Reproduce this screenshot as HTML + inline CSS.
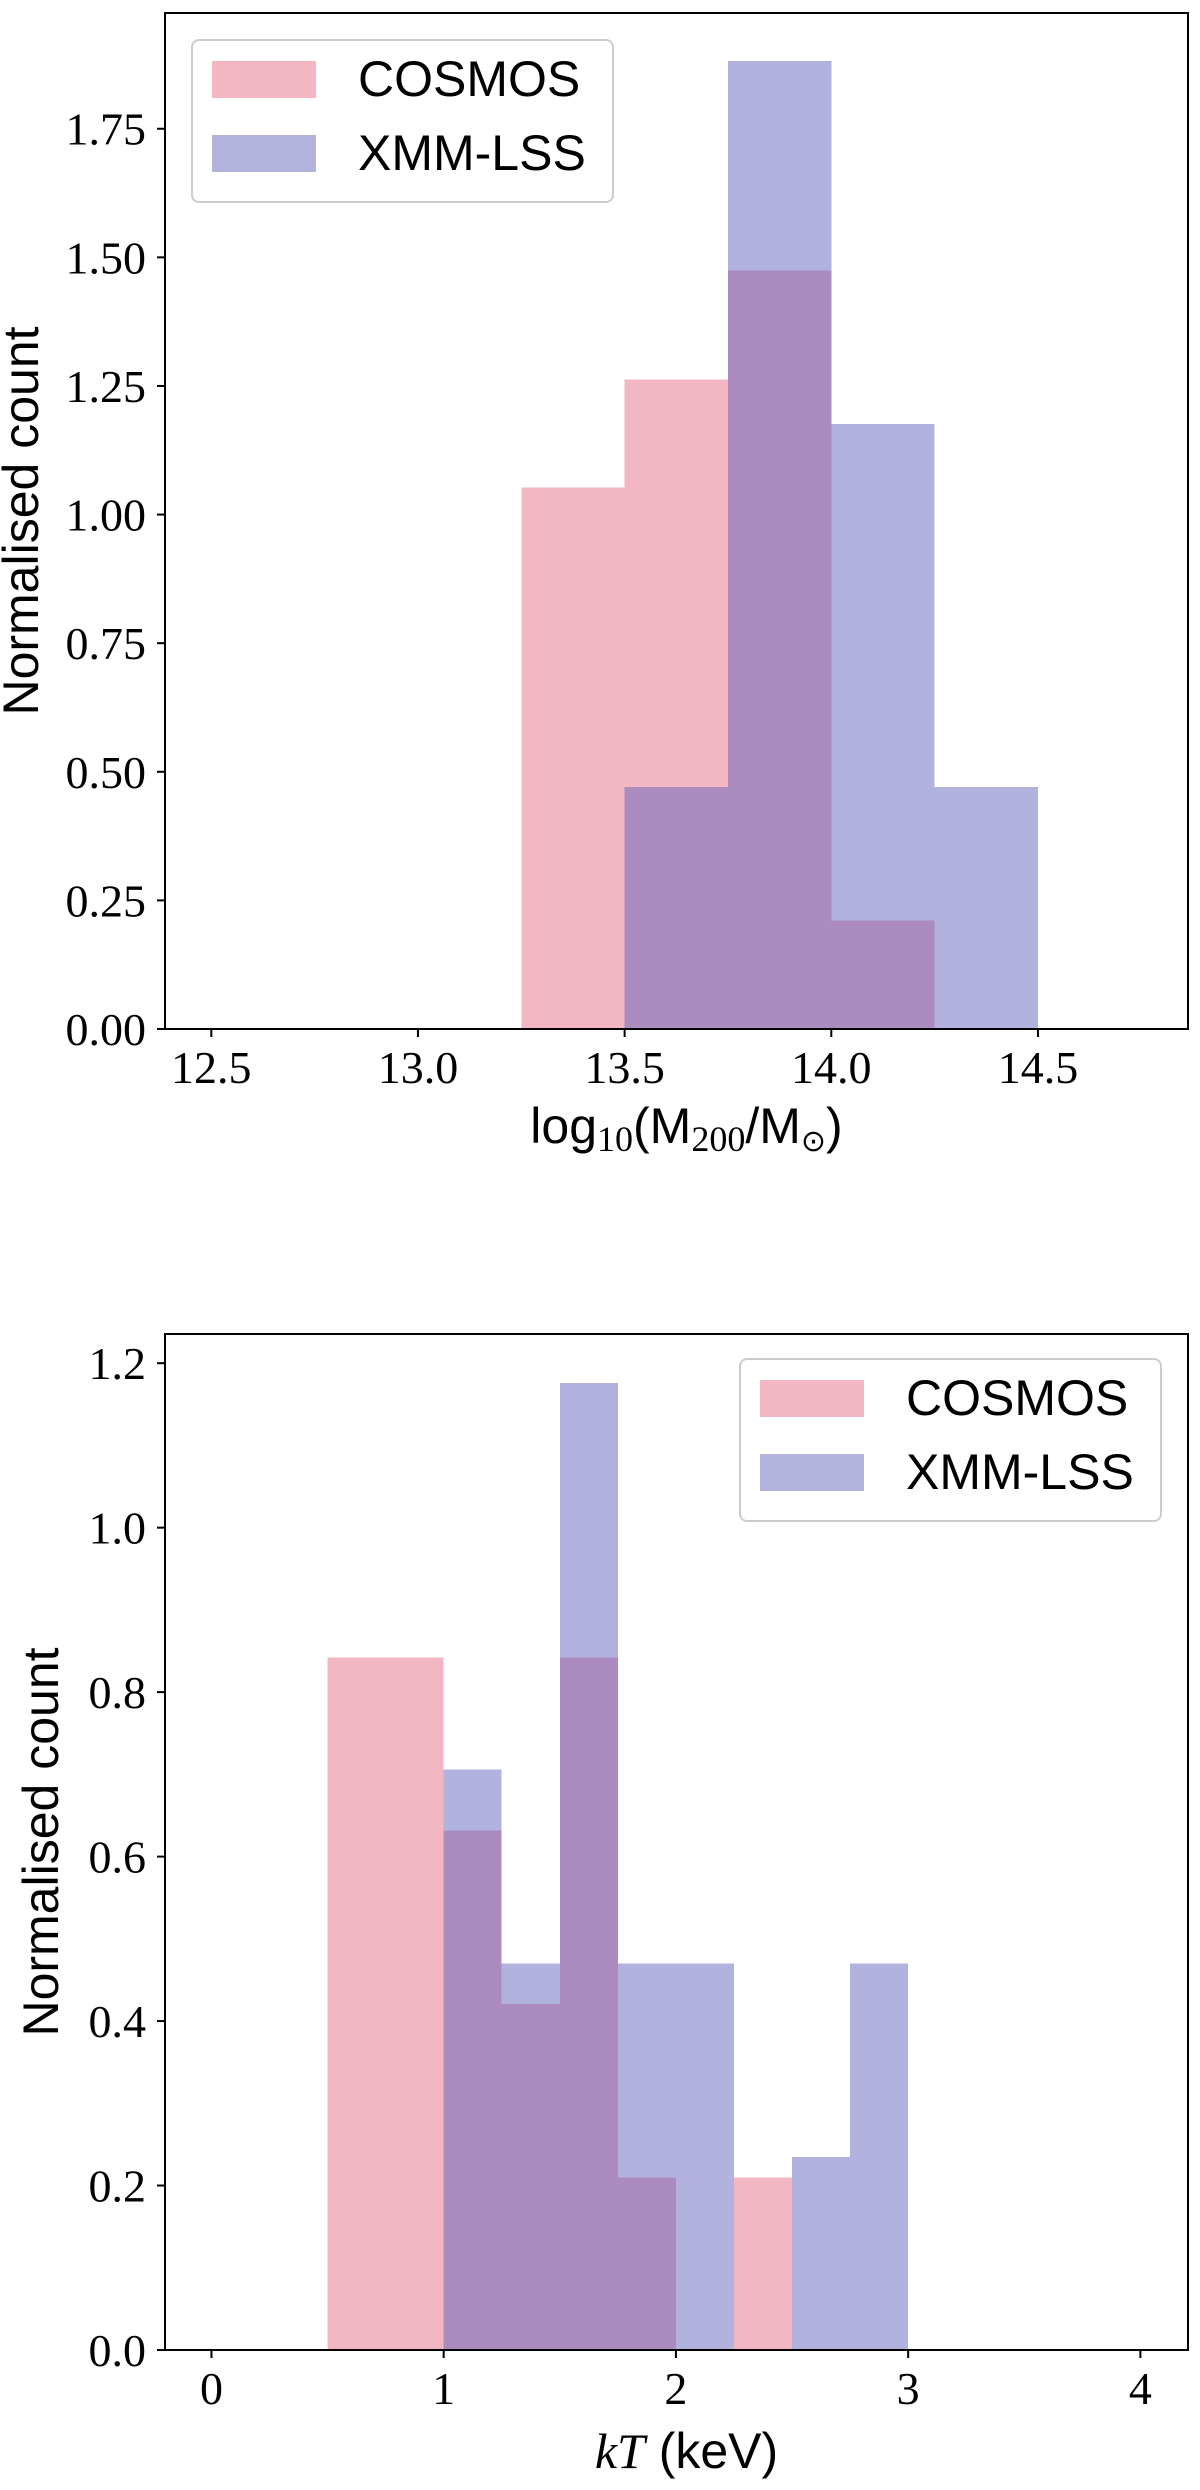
<!DOCTYPE html>
<html><head><meta charset="utf-8"><style>
html,body{margin:0;padding:0;background:#fff;}
svg{display:block;}
.tk{font-family:"Liberation Serif",serif;font-size:46px;fill:#000;}
.sn{font-family:"Liberation Sans",sans-serif;fill:#000;}
</style></head><body>
<svg id="fig" width="1200" height="2490" viewBox="0 0 1200 2490" xmlns="http://www.w3.org/2000/svg">
<rect width="1200" height="2490" fill="#fff"/>
</svg>
<script>
// Panel 1 data: log10(M200/Msun)
const massEdgesCosmos = [13.25, 13.5, 13.75, 14.0, 14.25];
const massCosmos = [1.053, 1.263, 1.474, 0.211];
const massEdgesXmm = [13.5, 13.75, 14.0, 14.25, 14.5];
const massXmm = [0.47, 1.882, 1.176, 0.47];
const massXTicks = [12.5, 13.0, 13.5, 14.0, 14.5];
const massXTickLabels = ["12.5", "13.0", "13.5", "14.0", "14.5"];
const massYTicks = [0, 0.25, 0.5, 0.75, 1.0, 1.25, 1.5, 1.75];
const massYTickLabels = ["0.00", "0.25", "0.50", "0.75", "1.00", "1.25", "1.50", "1.75"];
// Panel 2 data: kT (keV)
const ktEdgesCosmos = [0.5, 1.0, 1.25, 1.5, 1.75, 2.0, 2.25, 2.5];
const ktCosmos = [0.842, 0.632, 0.421, 0.842, 0.21, 0, 0.21];
const ktEdgesXmm = [1.0, 1.25, 1.5, 1.75, 2.25, 2.5, 2.75, 3.0];
const ktXmm = [0.706, 0.47, 1.176, 0.47, 0, 0.235, 0.47];
const ktXTicks = [0, 1, 2, 3, 4];
const ktXTickLabels = ["0", "1", "2", "3", "4"];
const ktYTicks = [0, 0.2, 0.4, 0.6, 0.8, 1.0, 1.2];
const ktYTickLabels = ["0.0", "0.2", "0.4", "0.6", "0.8", "1.0", "1.2"];

const NS = "http://www.w3.org/2000/svg";
const svg = document.getElementById('fig');
function mk(tag, attrs, parent) {
  const e = document.createElementNS(NS, tag);
  for (const k in attrs) e.setAttribute(k, attrs[k]);
  (parent || svg).appendChild(e);
  return e;
}

function panel(cfg) {
  const g = mk('g', {});
  
  
  const L = 165, R = 1188, T = cfg.top, B = cfg.bottom;
  const sx = v => L + (v - cfg.xmin) / (cfg.xmax - cfg.xmin) * (R - L);
  const sy = v => B - (v - cfg.ymin) / (cfg.ymax - cfg.ymin) * (B - T);
  function bars(edges, vals, fill, op, nm) {
    for (let i = 0; i < vals.length; i++) {
      if (vals[i] <= 0) continue;
      const r = mk('rect', {x: sx(edges[i]), y: sy(vals[i]), width: sx(edges[i+1]) - sx(edges[i]), height: sy(0) - sy(vals[i]), fill: fill, 'fill-opacity': op, 'shape-rendering': 'crispEdges'}, g);
      
      
    }
  }
  bars(cfg.ce, cfg.cv, '#f3b7c4', 1, 'cosmos');
  bars(cfg.xe, cfg.xv, '#5c5cb8', 0.47, 'xmm-lss');
  const ax = mk('rect', {x: L, y: T, width: R - L, height: B - T, fill: 'none', stroke: '#000', 'stroke-width': 2}, g);
  
  
  cfg.xt.forEach((v, i) => {
    const x = sx(v);
    mk('line', {x1: x, x2: x, y1: B, y2: B + 8, stroke: '#000', 'stroke-width': 2}, g);
    const t = mk('text', {x: x, y: B + 54, 'text-anchor': 'middle', class: 'tk'}, g);
    t.textContent = cfg.xl[i];
    
    
  });
  cfg.yt.forEach((v, i) => {
    const y = sy(v);
    mk('line', {x1: L - 8, x2: L, y1: y, y2: y, stroke: '#000', 'stroke-width': 2}, g);
    const t = mk('text', {x: L - 19, y: y + 16, 'text-anchor': 'end', class: 'tk'}, g);
    t.textContent = cfg.yl[i];
    
    
  });
  const yt = mk('text', {x: 0, y: 0, 'text-anchor': 'middle', class: 'sn', 'font-size': 50, transform: 'translate(' + cfg.ytx + ',' + ((T + B) / 2) + ') rotate(-90)'}, g);
  yt.textContent = 'Normalised count';
  
  
  const xt = mk('text', {x: (L + R) / 2 + 10, y: cfg.xty, 'text-anchor': 'middle', class: 'sn', 'font-size': 50}, g);
  xt.innerHTML = cfg.xtitle;
  
  
  const lg = mk('g', {}, g);
  
  
  const lx = cfg.leg[0], ly = cfg.leg[1];
  mk('rect', {x: lx, y: ly, width: 421, height: 162, rx: 7, fill: '#fff', 'fill-opacity': 0.8, stroke: '#ccc', 'stroke-width': 2}, lg);
  const p1 = mk('rect', {x: lx + 20, y: ly + 21, width: 104, height: 37, fill: '#f3b7c4'}, lg);
  
  
  const t1 = mk('text', {x: lx + 166, y: ly + 56, class: 'sn', 'font-size': 50}, lg);
  t1.textContent = 'COSMOS';
  const p2 = mk('rect', {x: lx + 20, y: ly + 95, width: 104, height: 37, fill: '#b3b3dd'}, lg);
  
  
  const t2 = mk('text', {x: lx + 166, y: ly + 130, class: 'sn', 'font-size': 50}, lg);
  t2.textContent = 'XMM-LSS';
}

panel({name: 'mass-histogram', top: 13, bottom: 1029, xmin: 12.388, xmax: 14.863, ymin: 0, ymax: 1.975,
  ce: massEdgesCosmos, cv: massCosmos, xe: massEdgesXmm, xv: massXmm,
  xt: massXTicks, xl: massXTickLabels, yt: massYTicks, yl: massYTickLabels,
  ytx: 38, xty: 1143, leg: [192, 40],
  xtitle: 'log<tspan font-family="Liberation Serif" font-size="36" dy="8">10</tspan><tspan dy="-8">(M</tspan><tspan font-family="Liberation Serif" font-size="36" dy="8">200</tspan><tspan dy="-8">/M</tspan><tspan font-family="DejaVu Sans" font-size="30" dy="8">⊙</tspan><tspan dy="-8">)</tspan>'});
panel({name: 'kt-histogram', top: 1334, bottom: 2350, xmin: -0.2, xmax: 4.205, ymin: 0, ymax: 1.2355,
  ce: ktEdgesCosmos, cv: ktCosmos, xe: ktEdgesXmm, xv: ktXmm,
  xt: ktXTicks, xl: ktXTickLabels, yt: ktYTicks, yl: ktYTickLabels,
  ytx: 58, xty: 2468, leg: [740, 1359],
  xtitle: '<tspan font-family="Liberation Serif" font-style="italic">kT</tspan> (keV)'});
</script>
</body></html>
